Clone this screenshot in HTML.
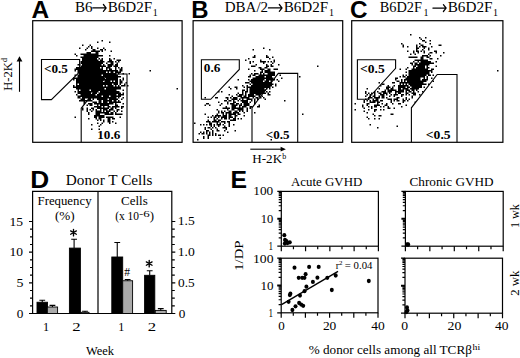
<!DOCTYPE html>
<html><head><meta charset="utf-8">
<style>
html,body{margin:0;padding:0;background:#fff;}
body{width:520px;height:358px;overflow:hidden;font-family:"Liberation Serif",serif;}
svg{display:block;}
</style></head><body>
<svg width="520" height="358" viewBox="0 0 520 358">
<rect width="520" height="358" fill="#fff"/>
<text x="31.59" y="17.60" font-size="24.50" style="font-family:'Liberation Sans',sans-serif;font-weight:bold" textLength="17.65" lengthAdjust="spacingAndGlyphs">A</text>
<text x="191.30" y="17.60" font-size="24.50" style="font-family:'Liberation Sans',sans-serif;font-weight:bold" textLength="17.29" lengthAdjust="spacingAndGlyphs">B</text>
<text x="349.90" y="17.60" font-size="24.50" style="font-family:'Liberation Sans',sans-serif;font-weight:bold" textLength="17.56" lengthAdjust="spacingAndGlyphs">C</text>
<text x="30.24" y="187.60" font-size="24.50" style="font-family:'Liberation Sans',sans-serif;font-weight:bold" textLength="18.96" lengthAdjust="spacingAndGlyphs">D</text>
<text x="230.54" y="187.60" font-size="24.50" style="font-family:'Liberation Sans',sans-serif;font-weight:bold" textLength="16.53" lengthAdjust="spacingAndGlyphs">E</text>
<text x="75.07" y="11.60" font-size="14.00" style="font-family:'Liberation Serif',serif" textLength="17.58" lengthAdjust="spacingAndGlyphs">B6</text>
<path d="M92.80 7.90H106.10M103.40 4.50L106.10 7.90L103.40 11.30" stroke="#000" stroke-width="1.25" fill="none" stroke-linecap="round" stroke-linejoin="miter"/>
<text x="107.77" y="11.60" font-size="14.00" style="font-family:'Liberation Serif',serif" textLength="44.38" lengthAdjust="spacingAndGlyphs">B6D2F</text>
<text x="152.72" y="15.6" font-size="10" style="font-family:'Liberation Serif',serif">1</text>
<text x="224.77" y="11.60" font-size="14.00" style="font-family:'Liberation Serif',serif" textLength="43.36" lengthAdjust="spacingAndGlyphs">DBA/2</text>
<path d="M268.40 7.90H282.00M279.30 4.50L282.00 7.90L279.30 11.30" stroke="#000" stroke-width="1.25" fill="none" stroke-linecap="round" stroke-linejoin="miter"/>
<text x="283.66" y="11.60" font-size="14.00" style="font-family:'Liberation Serif',serif" textLength="44.48" lengthAdjust="spacingAndGlyphs">B6D2F</text>
<text x="329.12" y="15.6" font-size="10" style="font-family:'Liberation Serif',serif">1</text>
<text x="379.69" y="11.60" font-size="14.00" style="font-family:'Liberation Serif',serif" textLength="42.23" lengthAdjust="spacingAndGlyphs">B6D2F</text>
<text x="423.62" y="15.6" font-size="10" style="font-family:'Liberation Serif',serif">1</text>
<path d="M432.90 8.10H446.10M443.40 4.70L446.10 8.10L443.40 11.50" stroke="#000" stroke-width="1.25" fill="none" stroke-linecap="round" stroke-linejoin="miter"/>
<text x="447.76" y="11.60" font-size="14.00" style="font-family:'Liberation Serif',serif" textLength="44.69" lengthAdjust="spacingAndGlyphs">B6D2F</text>
<text x="493.12" y="15.6" font-size="10" style="font-family:'Liberation Serif',serif">1</text>
<g fill="none" stroke="#000" stroke-width="1.2">
<rect x="32.7" y="20.7" width="149.4" height="121.6"/>
<rect x="193.1" y="20.7" width="149.6" height="121.6"/>
<rect x="351.7" y="20.7" width="151.2" height="121.6"/>
</g>
<path d="M101.5 40h1.5v1.5h-1.5zM97 41.5h1.5v1.5h-1.5zM109 41.5h1.5v1.5h-1.5zM82 44.5h1.5v1.5h-1.5zM89.5 44.5h1.5v1.5h-1.5zM88 46h1.5v1.5h-1.5zM91 46h1.5v1.5h-1.5zM79 47.5h1.5v1.5h-1.5zM86.5 47.5h1.5v1.5h-1.5zM91 47.5h1.5v1.5h-1.5zM97 47.5h1.5v1.5h-1.5zM103 47.5h1.5v1.5h-1.5zM85 49h1.5v1.5h-1.5zM92.5 49h3v1.5h-3zM100 49h3v1.5h-3zM104.5 49h1.5v1.5h-1.5zM91 50.5h9v1.5h-9zM101.5 50.5h1.5v1.5h-1.5zM110.5 50.5h1.5v1.5h-1.5zM86.5 52h4.5v1.5h-4.5zM95.5 52h3v1.5h-3zM74.5 53.5h1.5v1.5h-1.5zM80.5 53.5h18v1.5h-18zM76 55h1.5v1.5h-1.5zM83.5 55h19.5v1.5h-19.5zM109 55h1.5v1.5h-1.5zM80.5 56.5h18v1.5h-18zM82 58h15v1.5h-15zM98.5 58h1.5v1.5h-1.5zM101.5 58h1.5v1.5h-1.5zM109 58h1.5v1.5h-1.5zM113.5 58h1.5v1.5h-1.5zM82 59.5h16.5v1.5h-16.5zM100 59.5h3v1.5h-3zM109 59.5h3v1.5h-3zM116.5 59.5h4.5v1.5h-4.5zM80.5 61h24v1.5h-24zM107.5 61h6v1.5h-6zM115 61h1.5v1.5h-1.5zM118 61h1.5v1.5h-1.5zM80.5 62.5h22.5v1.5h-22.5zM106 62.5h1.5v1.5h-1.5zM110.5 62.5h3v1.5h-3zM116.5 62.5h1.5v1.5h-1.5zM77.5 64h3v1.5h-3zM82 64h19.5v1.5h-19.5zM103 64h1.5v1.5h-1.5zM107.5 64h6v1.5h-6zM115 64h3v1.5h-3zM80.5 65.5h25.5v1.5h-25.5zM107.5 65.5h4.5v1.5h-4.5zM113.5 65.5h4.5v1.5h-4.5zM76 67h24v1.5h-24zM101.5 67h1.5v1.5h-1.5zM106 67h4.5v1.5h-4.5zM115 67h1.5v1.5h-1.5zM118 67h1.5v1.5h-1.5zM121 67h1.5v1.5h-1.5zM74.5 68.5h28.5v1.5h-28.5zM106 68.5h1.5v1.5h-1.5zM109 68.5h3v1.5h-3zM115 68.5h1.5v1.5h-1.5zM119.5 68.5h3v1.5h-3zM74.5 70h1.5v1.5h-1.5zM77.5 70h40.5v1.5h-40.5zM119.5 70h3v1.5h-3zM149.5 70h1.5v1.5h-1.5zM77.5 71.5h28.5v1.5h-28.5zM107.5 71.5h1.5v1.5h-1.5zM110.5 71.5h3v1.5h-3zM115 71.5h6v1.5h-6zM79 73h37.5v1.5h-37.5zM118 73h1.5v1.5h-1.5zM122.5 73h1.5v1.5h-1.5zM128.5 73h1.5v1.5h-1.5zM74.5 74.5h1.5v1.5h-1.5zM77.5 74.5h24v1.5h-24zM103 74.5h15v1.5h-15zM77.5 76h43.5v1.5h-43.5zM73 77.5h31.5v1.5h-31.5zM106 77.5h12v1.5h-12zM122.5 77.5h1.5v1.5h-1.5zM73 79h1.5v1.5h-1.5zM76 79h42v1.5h-42zM119.5 79h1.5v1.5h-1.5zM122.5 79h1.5v1.5h-1.5zM76 80.5h27v1.5h-27zM104.5 80.5h6v1.5h-6zM112 80.5h1.5v1.5h-1.5zM115 80.5h3v1.5h-3zM119.5 80.5h3v1.5h-3zM76 82h42v1.5h-42zM119.5 82h3v1.5h-3zM125.5 82h1.5v1.5h-1.5zM76 83.5h1.5v1.5h-1.5zM79 83.5h33v1.5h-33zM113.5 83.5h4.5v1.5h-4.5zM119.5 83.5h1.5v1.5h-1.5zM124 83.5h1.5v1.5h-1.5zM73 85h1.5v1.5h-1.5zM76 85h27v1.5h-27zM104.5 85h1.5v1.5h-1.5zM107.5 85h6v1.5h-6zM115 85h1.5v1.5h-1.5zM118 85h1.5v1.5h-1.5zM121 85h4.5v1.5h-4.5zM127 85h1.5v1.5h-1.5zM73 86.5h48v1.5h-48zM76 88h28.5v1.5h-28.5zM106 88h15v1.5h-15zM176.5 88h1.5v1.5h-1.5zM77.5 89.5h1.5v1.5h-1.5zM80.5 89.5h9v1.5h-9zM91 89.5h25.5v1.5h-25.5zM122.5 89.5h1.5v1.5h-1.5zM74.5 91h1.5v1.5h-1.5zM77.5 91h21v1.5h-21zM100 91h19.5v1.5h-19.5zM77.5 92.5h13.5v1.5h-13.5zM92.5 92.5h4.5v1.5h-4.5zM98.5 92.5h22.5v1.5h-22.5zM122.5 92.5h1.5v1.5h-1.5zM76 94h1.5v1.5h-1.5zM80.5 94h15v1.5h-15zM97 94h19.5v1.5h-19.5zM118 94h6v1.5h-6zM77.5 95.5h24v1.5h-24zM103 95.5h6v1.5h-6zM110.5 95.5h10.5v1.5h-10.5zM77.5 97h3v1.5h-3zM82 97h34.5v1.5h-34.5zM118 97h1.5v1.5h-1.5zM122.5 97h1.5v1.5h-1.5zM80.5 98.5h4.5v1.5h-4.5zM88 98.5h3v1.5h-3zM92.5 98.5h1.5v1.5h-1.5zM97 98.5h10.5v1.5h-10.5zM109 98.5h9v1.5h-9zM121 98.5h1.5v1.5h-1.5zM79 100h13.5v1.5h-13.5zM98.5 100h3v1.5h-3zM103 100h9v1.5h-9zM113.5 100h3v1.5h-3zM118 100h1.5v1.5h-1.5zM83.5 101.5h1.5v1.5h-1.5zM92.5 101.5h4.5v1.5h-4.5zM98.5 101.5h3v1.5h-3zM103 101.5h4.5v1.5h-4.5zM109 101.5h12v1.5h-12zM83.5 103h1.5v1.5h-1.5zM88 103h4.5v1.5h-4.5zM94 103h19.5v1.5h-19.5zM115 103h1.5v1.5h-1.5zM122.5 103h1.5v1.5h-1.5zM86.5 104.5h1.5v1.5h-1.5zM89.5 104.5h3v1.5h-3zM97 104.5h1.5v1.5h-1.5zM100 104.5h9v1.5h-9zM115 104.5h3v1.5h-3zM94 106h7.5v1.5h-7.5zM103 106h1.5v1.5h-1.5zM107.5 106h3v1.5h-3zM112 106h7.5v1.5h-7.5zM121 106h3v1.5h-3zM82 107.5h1.5v1.5h-1.5zM86.5 107.5h1.5v1.5h-1.5zM91 107.5h3v1.5h-3zM97 107.5h12v1.5h-12zM110.5 107.5h3v1.5h-3zM115 107.5h1.5v1.5h-1.5zM121 107.5h1.5v1.5h-1.5zM82 109h1.5v1.5h-1.5zM86.5 109h1.5v1.5h-1.5zM89.5 109h1.5v1.5h-1.5zM92.5 109h1.5v1.5h-1.5zM95.5 109h1.5v1.5h-1.5zM100 109h1.5v1.5h-1.5zM103 109h4.5v1.5h-4.5zM109 109h4.5v1.5h-4.5zM116.5 109h3v1.5h-3zM86.5 110.5h1.5v1.5h-1.5zM91 110.5h1.5v1.5h-1.5zM95.5 110.5h6v1.5h-6zM103 110.5h1.5v1.5h-1.5zM106 110.5h4.5v1.5h-4.5zM113.5 110.5h1.5v1.5h-1.5zM116.5 110.5h1.5v1.5h-1.5zM121 110.5h1.5v1.5h-1.5zM88 112h1.5v1.5h-1.5zM95.5 112h13.5v1.5h-13.5zM110.5 112h3v1.5h-3zM115 112h1.5v1.5h-1.5zM88 113.5h1.5v1.5h-1.5zM95.5 113.5h4.5v1.5h-4.5zM104.5 113.5h9v1.5h-9zM115 113.5h7.5v1.5h-7.5zM94 115h10.5v1.5h-10.5zM74.5 116.5h1.5v1.5h-1.5zM94 116.5h3v1.5h-3zM98.5 116.5h6v1.5h-6zM106 116.5h7.5v1.5h-7.5zM119.5 116.5h1.5v1.5h-1.5zM88 118h1.5v1.5h-1.5zM95.5 118h1.5v1.5h-1.5zM98.5 118h3v1.5h-3zM107.5 118h3v1.5h-3zM112 118h3v1.5h-3zM97 119.5h1.5v1.5h-1.5zM100 119.5h1.5v1.5h-1.5zM103 119.5h1.5v1.5h-1.5zM107.5 119.5h3v1.5h-3zM103 121h1.5v1.5h-1.5zM107.5 121h3v1.5h-3zM112 121h1.5v1.5h-1.5zM97 122.5h1.5v1.5h-1.5zM101.5 122.5h1.5v1.5h-1.5zM109 122.5h1.5v1.5h-1.5zM115 122.5h1.5v1.5h-1.5zM91 124h1.5v1.5h-1.5zM100 124h1.5v1.5h-1.5zM98.5 125.5h1.5v1.5h-1.5zM91 128.5h1.5v1.5h-1.5zM98.5 128.5h1.5v1.5h-1.5zM263 47.5h1.5v1.5h-1.5zM252.5 49h1.5v1.5h-1.5zM269 49h1.5v1.5h-1.5zM254 55h1.5v1.5h-1.5zM266 55h1.5v1.5h-1.5zM252.5 56.5h3v1.5h-3zM266 56.5h3v1.5h-3zM272 56.5h1.5v1.5h-1.5zM248 58h1.5v1.5h-1.5zM269 58h1.5v1.5h-1.5zM245 59.5h1.5v1.5h-1.5zM260 59.5h1.5v1.5h-1.5zM273.5 59.5h1.5v1.5h-1.5zM249.5 61h1.5v1.5h-1.5zM252.5 61h1.5v1.5h-1.5zM260 61h6v1.5h-6zM267.5 61h1.5v1.5h-1.5zM270.5 61h1.5v1.5h-1.5zM273.5 61h1.5v1.5h-1.5zM249.5 62.5h1.5v1.5h-1.5zM263 62.5h1.5v1.5h-1.5zM272 62.5h1.5v1.5h-1.5zM255.5 64h1.5v1.5h-1.5zM266 64h1.5v1.5h-1.5zM270.5 64h1.5v1.5h-1.5zM278 64h1.5v1.5h-1.5zM251 65.5h4.5v1.5h-4.5zM266 65.5h3v1.5h-3zM270.5 65.5h3v1.5h-3zM317 65.5h1.5v1.5h-1.5zM258.5 67h3v1.5h-3zM264.5 67h3v1.5h-3zM248 68.5h1.5v1.5h-1.5zM260 68.5h4.5v1.5h-4.5zM267.5 68.5h3v1.5h-3zM273.5 68.5h4.5v1.5h-4.5zM254 70h1.5v1.5h-1.5zM261.5 70h1.5v1.5h-1.5zM264.5 70h6v1.5h-6zM260 71.5h3v1.5h-3zM264.5 71.5h10.5v1.5h-10.5zM251 73h1.5v1.5h-1.5zM254 73h4.5v1.5h-4.5zM260 73h1.5v1.5h-1.5zM263 73h1.5v1.5h-1.5zM267.5 73h7.5v1.5h-7.5zM249.5 74.5h1.5v1.5h-1.5zM252.5 74.5h3v1.5h-3zM258.5 74.5h16.5v1.5h-16.5zM279.5 74.5h1.5v1.5h-1.5zM248 76h3v1.5h-3zM255.5 76h9v1.5h-9zM266 76h6v1.5h-6zM299 76h1.5v1.5h-1.5zM252.5 77.5h21v1.5h-21zM281 77.5h1.5v1.5h-1.5zM237.5 79h1.5v1.5h-1.5zM248 79h1.5v1.5h-1.5zM251 79h13.5v1.5h-13.5zM266 79h9v1.5h-9zM276.5 79h1.5v1.5h-1.5zM249.5 80.5h13.5v1.5h-13.5zM264.5 80.5h4.5v1.5h-4.5zM270.5 80.5h1.5v1.5h-1.5zM278 80.5h1.5v1.5h-1.5zM245 82h4.5v1.5h-4.5zM251 82h21v1.5h-21zM249.5 83.5h1.5v1.5h-1.5zM252.5 83.5h21v1.5h-21zM275 83.5h1.5v1.5h-1.5zM242 85h1.5v1.5h-1.5zM246.5 85h1.5v1.5h-1.5zM251 85h21v1.5h-21zM275 85h1.5v1.5h-1.5zM228.5 86.5h1.5v1.5h-1.5zM234.5 86.5h3v1.5h-3zM243.5 86.5h1.5v1.5h-1.5zM246.5 86.5h24v1.5h-24zM272 86.5h1.5v1.5h-1.5zM230 88h1.5v1.5h-1.5zM236 88h1.5v1.5h-1.5zM246.5 88h1.5v1.5h-1.5zM249.5 88h15v1.5h-15zM266 88h1.5v1.5h-1.5zM269 88h1.5v1.5h-1.5zM242 89.5h3v1.5h-3zM246.5 89.5h1.5v1.5h-1.5zM249.5 89.5h16.5v1.5h-16.5zM218 91h1.5v1.5h-1.5zM221 91h1.5v1.5h-1.5zM242 91h1.5v1.5h-1.5zM245 91h3v1.5h-3zM249.5 91h15v1.5h-15zM266 91h1.5v1.5h-1.5zM269 91h1.5v1.5h-1.5zM237.5 92.5h1.5v1.5h-1.5zM242 92.5h1.5v1.5h-1.5zM245 92.5h1.5v1.5h-1.5zM249.5 92.5h16.5v1.5h-16.5zM267.5 92.5h1.5v1.5h-1.5zM228.5 94h1.5v1.5h-1.5zM236 94h1.5v1.5h-1.5zM239 94h4.5v1.5h-4.5zM245 94h1.5v1.5h-1.5zM248 94h6v1.5h-6zM255.5 94h6v1.5h-6zM267.5 94h3v1.5h-3zM231.5 95.5h1.5v1.5h-1.5zM237.5 95.5h4.5v1.5h-4.5zM243.5 95.5h3v1.5h-3zM248 95.5h7.5v1.5h-7.5zM258.5 95.5h1.5v1.5h-1.5zM261.5 95.5h1.5v1.5h-1.5zM204.5 97h1.5v1.5h-1.5zM215 97h3v1.5h-3zM225.5 97h3v1.5h-3zM230 97h1.5v1.5h-1.5zM233 97h4.5v1.5h-4.5zM240.5 97h9v1.5h-9zM252.5 97h1.5v1.5h-1.5zM255.5 97h3v1.5h-3zM260 97h1.5v1.5h-1.5zM263 97h1.5v1.5h-1.5zM227 98.5h1.5v1.5h-1.5zM231.5 98.5h6v1.5h-6zM239 98.5h1.5v1.5h-1.5zM242 98.5h1.5v1.5h-1.5zM246.5 98.5h6v1.5h-6zM254 98.5h1.5v1.5h-1.5zM257 98.5h1.5v1.5h-1.5zM264.5 98.5h1.5v1.5h-1.5zM224 100h3v1.5h-3zM228.5 100h3v1.5h-3zM233 100h1.5v1.5h-1.5zM237.5 100h1.5v1.5h-1.5zM240.5 100h7.5v1.5h-7.5zM251 100h1.5v1.5h-1.5zM254 100h1.5v1.5h-1.5zM284 100h1.5v1.5h-1.5zM218 101.5h1.5v1.5h-1.5zM227 101.5h1.5v1.5h-1.5zM233 101.5h3v1.5h-3zM242 101.5h6v1.5h-6zM249.5 101.5h1.5v1.5h-1.5zM254 101.5h1.5v1.5h-1.5zM206 103h3v1.5h-3zM221 103h1.5v1.5h-1.5zM227 103h1.5v1.5h-1.5zM230 103h4.5v1.5h-4.5zM236 103h3v1.5h-3zM240.5 103h1.5v1.5h-1.5zM243.5 103h6v1.5h-6zM254 103h1.5v1.5h-1.5zM204.5 104.5h1.5v1.5h-1.5zM209 104.5h1.5v1.5h-1.5zM219.5 104.5h1.5v1.5h-1.5zM231.5 104.5h6v1.5h-6zM239 104.5h3v1.5h-3zM243.5 104.5h6v1.5h-6zM258.5 104.5h1.5v1.5h-1.5zM225.5 106h1.5v1.5h-1.5zM231.5 106h4.5v1.5h-4.5zM239 106h1.5v1.5h-1.5zM242 106h4.5v1.5h-4.5zM249.5 106h3v1.5h-3zM257 106h3v1.5h-3zM222.5 107.5h7.5v1.5h-7.5zM231.5 107.5h12v1.5h-12zM246.5 107.5h1.5v1.5h-1.5zM249.5 107.5h1.5v1.5h-1.5zM216.5 109h1.5v1.5h-1.5zM227 109h1.5v1.5h-1.5zM231.5 109h3v1.5h-3zM237.5 109h6v1.5h-6zM246.5 109h1.5v1.5h-1.5zM218 110.5h1.5v1.5h-1.5zM221 110.5h1.5v1.5h-1.5zM224 110.5h1.5v1.5h-1.5zM228.5 110.5h3v1.5h-3zM234.5 110.5h3v1.5h-3zM239 110.5h1.5v1.5h-1.5zM242 110.5h1.5v1.5h-1.5zM246.5 110.5h1.5v1.5h-1.5zM218 112h1.5v1.5h-1.5zM221 112h3v1.5h-3zM225.5 112h6v1.5h-6zM233 112h6v1.5h-6zM243.5 112h1.5v1.5h-1.5zM254 112h1.5v1.5h-1.5zM204.5 113.5h1.5v1.5h-1.5zM216.5 113.5h1.5v1.5h-1.5zM222.5 113.5h1.5v1.5h-1.5zM225.5 113.5h1.5v1.5h-1.5zM228.5 113.5h7.5v1.5h-7.5zM237.5 113.5h3v1.5h-3zM302 113.5h1.5v1.5h-1.5zM212 115h1.5v1.5h-1.5zM215 115h6v1.5h-6zM222.5 115h4.5v1.5h-4.5zM228.5 115h3v1.5h-3zM234.5 115h3v1.5h-3zM243.5 115h1.5v1.5h-1.5zM207.5 116.5h1.5v1.5h-1.5zM210.5 116.5h1.5v1.5h-1.5zM213.5 116.5h3v1.5h-3zM218 116.5h1.5v1.5h-1.5zM221 116.5h6v1.5h-6zM228.5 116.5h4.5v1.5h-4.5zM234.5 116.5h1.5v1.5h-1.5zM213.5 118h1.5v1.5h-1.5zM216.5 118h1.5v1.5h-1.5zM221 118h1.5v1.5h-1.5zM224 118h3v1.5h-3zM228.5 118h1.5v1.5h-1.5zM233 118h3v1.5h-3zM237.5 118h1.5v1.5h-1.5zM240.5 118h1.5v1.5h-1.5zM207.5 119.5h1.5v1.5h-1.5zM213.5 119.5h3v1.5h-3zM218 119.5h3v1.5h-3zM230 119.5h6v1.5h-6zM206 121h4.5v1.5h-4.5zM212 121h7.5v1.5h-7.5zM221 121h4.5v1.5h-4.5zM227 121h3v1.5h-3zM194 122.5h1.5v1.5h-1.5zM209 122.5h3v1.5h-3zM216.5 122.5h1.5v1.5h-1.5zM219.5 122.5h1.5v1.5h-1.5zM224 122.5h1.5v1.5h-1.5zM228.5 122.5h1.5v1.5h-1.5zM200 124h1.5v1.5h-1.5zM203 124h1.5v1.5h-1.5zM206 124h1.5v1.5h-1.5zM209 124h3v1.5h-3zM213.5 124h1.5v1.5h-1.5zM216.5 124h4.5v1.5h-4.5zM222.5 124h1.5v1.5h-1.5zM228.5 124h1.5v1.5h-1.5zM233 124h1.5v1.5h-1.5zM210.5 125.5h1.5v1.5h-1.5zM213.5 125.5h1.5v1.5h-1.5zM218 125.5h1.5v1.5h-1.5zM224 125.5h1.5v1.5h-1.5zM228.5 125.5h1.5v1.5h-1.5zM204.5 127h1.5v1.5h-1.5zM207.5 127h3v1.5h-3zM212 127h1.5v1.5h-1.5zM215 127h1.5v1.5h-1.5zM222.5 127h4.5v1.5h-4.5zM204.5 128.5h1.5v1.5h-1.5zM210.5 128.5h1.5v1.5h-1.5zM216.5 128.5h1.5v1.5h-1.5zM225.5 128.5h1.5v1.5h-1.5zM206 130h3v1.5h-3zM212 130h1.5v1.5h-1.5zM216.5 130h3v1.5h-3zM224 130h1.5v1.5h-1.5zM234.5 130h1.5v1.5h-1.5zM200 131.5h1.5v1.5h-1.5zM203 131.5h1.5v1.5h-1.5zM206 131.5h1.5v1.5h-1.5zM209 131.5h1.5v1.5h-1.5zM212 131.5h1.5v1.5h-1.5zM227 131.5h1.5v1.5h-1.5zM198.5 133h1.5v1.5h-1.5zM201.5 133h3v1.5h-3zM206 133h1.5v1.5h-1.5zM209 133h1.5v1.5h-1.5zM212 133h1.5v1.5h-1.5zM215 133h1.5v1.5h-1.5zM207.5 134.5h3v1.5h-3zM212 134.5h1.5v1.5h-1.5zM215 134.5h1.5v1.5h-1.5zM218 134.5h3v1.5h-3zM222.5 134.5h1.5v1.5h-1.5zM203 136h1.5v1.5h-1.5zM207.5 136h1.5v1.5h-1.5zM203 137.5h1.5v1.5h-1.5zM207.5 137.5h1.5v1.5h-1.5zM219.5 137.5h1.5v1.5h-1.5zM197 139h1.5v1.5h-1.5zM270.5 139h1.5v1.5h-1.5zM410 34h1.5v1.5h-1.5zM419 37h1.5v1.5h-1.5zM425 37h1.5v1.5h-1.5zM420.5 38.5h1.5v1.5h-1.5zM422 40h3v1.5h-3zM429.5 40h1.5v1.5h-1.5zM425 41.5h1.5v1.5h-1.5zM401 43h1.5v1.5h-1.5zM419 43h1.5v1.5h-1.5zM429.5 43h1.5v1.5h-1.5zM402.5 44.5h1.5v1.5h-1.5zM416 44.5h1.5v1.5h-1.5zM420.5 44.5h3v1.5h-3zM438.5 44.5h3v1.5h-3zM402.5 46h1.5v1.5h-1.5zM407 46h1.5v1.5h-1.5zM416 46h1.5v1.5h-1.5zM419 46h1.5v1.5h-1.5zM422 46h4.5v1.5h-4.5zM431 46h1.5v1.5h-1.5zM416 47.5h3v1.5h-3zM423.5 47.5h1.5v1.5h-1.5zM428 47.5h1.5v1.5h-1.5zM416 49h1.5v1.5h-1.5zM422 49h1.5v1.5h-1.5zM428 49h1.5v1.5h-1.5zM407 50.5h1.5v1.5h-1.5zM413 50.5h1.5v1.5h-1.5zM416 50.5h3v1.5h-3zM420.5 50.5h1.5v1.5h-1.5zM423.5 50.5h1.5v1.5h-1.5zM434 50.5h3v1.5h-3zM413 52h1.5v1.5h-1.5zM417.5 52h1.5v1.5h-1.5zM423.5 52h1.5v1.5h-1.5zM429.5 52h3v1.5h-3zM435.5 52h1.5v1.5h-1.5zM443 52h1.5v1.5h-1.5zM410 53.5h1.5v1.5h-1.5zM414.5 53.5h1.5v1.5h-1.5zM428 53.5h1.5v1.5h-1.5zM422 55h6v1.5h-6zM429.5 55h1.5v1.5h-1.5zM440 55h1.5v1.5h-1.5zM408.5 56.5h9v1.5h-9zM420.5 56.5h3v1.5h-3zM426.5 56.5h3v1.5h-3zM420.5 58h3v1.5h-3zM429.5 58h3v1.5h-3zM437 58h1.5v1.5h-1.5zM414.5 59.5h13.5v1.5h-13.5zM413 61h1.5v1.5h-1.5zM417.5 61h1.5v1.5h-1.5zM420.5 61h10.5v1.5h-10.5zM435.5 61h1.5v1.5h-1.5zM410 62.5h3v1.5h-3zM414.5 62.5h3v1.5h-3zM419 62.5h15v1.5h-15zM411.5 64h1.5v1.5h-1.5zM414.5 64h15v1.5h-15zM413 65.5h3v1.5h-3zM417.5 65.5h7.5v1.5h-7.5zM426.5 65.5h1.5v1.5h-1.5zM435.5 65.5h1.5v1.5h-1.5zM407 67h1.5v1.5h-1.5zM413 67h1.5v1.5h-1.5zM416 67h9v1.5h-9zM426.5 67h3v1.5h-3zM399.5 68.5h1.5v1.5h-1.5zM405.5 68.5h1.5v1.5h-1.5zM411.5 68.5h16.5v1.5h-16.5zM431 68.5h3v1.5h-3zM408.5 70h24v1.5h-24zM497 70h1.5v1.5h-1.5zM405.5 71.5h1.5v1.5h-1.5zM408.5 71.5h21v1.5h-21zM431 71.5h1.5v1.5h-1.5zM408.5 73h21v1.5h-21zM402.5 74.5h1.5v1.5h-1.5zM405.5 74.5h1.5v1.5h-1.5zM408.5 74.5h18v1.5h-18zM428 74.5h3v1.5h-3zM432.5 74.5h1.5v1.5h-1.5zM399.5 76h1.5v1.5h-1.5zM402.5 76h3v1.5h-3zM407 76h18v1.5h-18zM426.5 76h1.5v1.5h-1.5zM395 77.5h3v1.5h-3zM405.5 77.5h15v1.5h-15zM423.5 77.5h1.5v1.5h-1.5zM426.5 77.5h1.5v1.5h-1.5zM431 77.5h1.5v1.5h-1.5zM395 79h1.5v1.5h-1.5zM401 79h1.5v1.5h-1.5zM404 79h16.5v1.5h-16.5zM422 79h6v1.5h-6zM396.5 80.5h3v1.5h-3zM401 80.5h1.5v1.5h-1.5zM404 80.5h1.5v1.5h-1.5zM407 80.5h19.5v1.5h-19.5zM432.5 80.5h1.5v1.5h-1.5zM378.5 82h1.5v1.5h-1.5zM392 82h3v1.5h-3zM399.5 82h24v1.5h-24zM381.5 83.5h3v1.5h-3zM399.5 83.5h1.5v1.5h-1.5zM402.5 83.5h1.5v1.5h-1.5zM405.5 83.5h1.5v1.5h-1.5zM408.5 83.5h18v1.5h-18zM428 83.5h1.5v1.5h-1.5zM380 85h1.5v1.5h-1.5zM387.5 85h1.5v1.5h-1.5zM393.5 85h1.5v1.5h-1.5zM398 85h10.5v1.5h-10.5zM410 85h12v1.5h-12zM386 86.5h4.5v1.5h-4.5zM392 86.5h1.5v1.5h-1.5zM398 86.5h7.5v1.5h-7.5zM407 86.5h3v1.5h-3zM411.5 86.5h10.5v1.5h-10.5zM423.5 86.5h1.5v1.5h-1.5zM431 86.5h1.5v1.5h-1.5zM366.5 88h1.5v1.5h-1.5zM378.5 88h1.5v1.5h-1.5zM386 88h3v1.5h-3zM390.5 88h3v1.5h-3zM398 88h3v1.5h-3zM402.5 88h6v1.5h-6zM410 88h9v1.5h-9zM384.5 89.5h1.5v1.5h-1.5zM387.5 89.5h9v1.5h-9zM398 89.5h6v1.5h-6zM405.5 89.5h4.5v1.5h-4.5zM411.5 89.5h3v1.5h-3zM416 89.5h1.5v1.5h-1.5zM365 91h1.5v1.5h-1.5zM374 91h1.5v1.5h-1.5zM377 91h1.5v1.5h-1.5zM381.5 91h4.5v1.5h-4.5zM387.5 91h4.5v1.5h-4.5zM395 91h9v1.5h-9zM405.5 91h1.5v1.5h-1.5zM408.5 91h3v1.5h-3zM413 91h1.5v1.5h-1.5zM417.5 91h1.5v1.5h-1.5zM422 91h1.5v1.5h-1.5zM365 92.5h1.5v1.5h-1.5zM368 92.5h1.5v1.5h-1.5zM371 92.5h1.5v1.5h-1.5zM374 92.5h1.5v1.5h-1.5zM378.5 92.5h3v1.5h-3zM383 92.5h4.5v1.5h-4.5zM389 92.5h1.5v1.5h-1.5zM395 92.5h1.5v1.5h-1.5zM398 92.5h3v1.5h-3zM405.5 92.5h3v1.5h-3zM411.5 92.5h4.5v1.5h-4.5zM366.5 94h1.5v1.5h-1.5zM369.5 94h1.5v1.5h-1.5zM374 94h1.5v1.5h-1.5zM380 94h4.5v1.5h-4.5zM386 94h1.5v1.5h-1.5zM390.5 94h1.5v1.5h-1.5zM393.5 94h4.5v1.5h-4.5zM401 94h3v1.5h-3zM405.5 94h1.5v1.5h-1.5zM408.5 94h1.5v1.5h-1.5zM413 94h3v1.5h-3zM419 94h1.5v1.5h-1.5zM365 95.5h1.5v1.5h-1.5zM369.5 95.5h1.5v1.5h-1.5zM372.5 95.5h3v1.5h-3zM378.5 95.5h1.5v1.5h-1.5zM381.5 95.5h3v1.5h-3zM389 95.5h1.5v1.5h-1.5zM393.5 95.5h1.5v1.5h-1.5zM401 95.5h1.5v1.5h-1.5zM411.5 95.5h1.5v1.5h-1.5zM368 97h4.5v1.5h-4.5zM374 97h6v1.5h-6zM381.5 97h3v1.5h-3zM386 97h1.5v1.5h-1.5zM396.5 97h3v1.5h-3zM405.5 97h1.5v1.5h-1.5zM411.5 97h1.5v1.5h-1.5zM365 98.5h1.5v1.5h-1.5zM368 98.5h1.5v1.5h-1.5zM372.5 98.5h1.5v1.5h-1.5zM375.5 98.5h3v1.5h-3zM387.5 98.5h4.5v1.5h-4.5zM393.5 98.5h4.5v1.5h-4.5zM402.5 98.5h1.5v1.5h-1.5zM405.5 98.5h1.5v1.5h-1.5zM408.5 98.5h1.5v1.5h-1.5zM363.5 100h1.5v1.5h-1.5zM366.5 100h1.5v1.5h-1.5zM369.5 100h1.5v1.5h-1.5zM372.5 100h6v1.5h-6zM380 100h3v1.5h-3zM390.5 100h1.5v1.5h-1.5zM393.5 100h1.5v1.5h-1.5zM396.5 100h3v1.5h-3zM402.5 100h3v1.5h-3zM407 100h1.5v1.5h-1.5zM363.5 101.5h1.5v1.5h-1.5zM369.5 101.5h6v1.5h-6zM377 101.5h3v1.5h-3zM390.5 101.5h1.5v1.5h-1.5zM402.5 101.5h1.5v1.5h-1.5zM414.5 101.5h1.5v1.5h-1.5zM354.5 103h1.5v1.5h-1.5zM366.5 103h3v1.5h-3zM377 103h1.5v1.5h-1.5zM381.5 103h1.5v1.5h-1.5zM386 103h1.5v1.5h-1.5zM392 103h1.5v1.5h-1.5zM398 103h3v1.5h-3zM362 104.5h1.5v1.5h-1.5zM366.5 104.5h1.5v1.5h-1.5zM374 104.5h6v1.5h-6zM384.5 104.5h3v1.5h-3zM405.5 104.5h1.5v1.5h-1.5zM362 106h1.5v1.5h-1.5zM368 106h1.5v1.5h-1.5zM371 106h1.5v1.5h-1.5zM374 106h3v1.5h-3zM380 106h1.5v1.5h-1.5zM383 106h1.5v1.5h-1.5zM387.5 106h1.5v1.5h-1.5zM401 106h1.5v1.5h-1.5zM363.5 107.5h1.5v1.5h-1.5zM371 107.5h1.5v1.5h-1.5zM387.5 107.5h3v1.5h-3zM393.5 107.5h1.5v1.5h-1.5zM354.5 109h1.5v1.5h-1.5zM368 109h1.5v1.5h-1.5zM374 109h3v1.5h-3zM380 109h1.5v1.5h-1.5zM383 109h1.5v1.5h-1.5zM363.5 110.5h1.5v1.5h-1.5zM374 110.5h1.5v1.5h-1.5zM366.5 112h1.5v1.5h-1.5zM372.5 113.5h1.5v1.5h-1.5zM390.5 113.5h3v1.5h-3zM374 115h1.5v1.5h-1.5zM378.5 115h3v1.5h-3zM366.5 116.5h1.5v1.5h-1.5zM368 118h1.5v1.5h-1.5zM374 118h1.5v1.5h-1.5zM378.5 118h1.5v1.5h-1.5zM369.5 124h1.5v1.5h-1.5zM396.5 125.5h1.5v1.5h-1.5zM377 127h1.5v1.5h-1.5z"/>
<g fill="none" stroke="#000" stroke-width="1.1">
<path d="M41.5 59.5H79.6V72L51.4 99.6H41.5Z"/>
<path d="M81.2 142.3V108.3L108.2 74H127V142.3"/>
<path d="M201.4 59.7H239.3V69.5L210.7 99.3H201.4Z"/>
<path d="M252 142.3V107.8L278.3 73.4H297.7V142.3"/>
<path d="M357.4 59.7H395.6V68.4L367.4 99.3H357.4Z"/>
<path d="M411.4 142.3V107.8L437.2 74.5H457V142.3"/>
</g>
<text x="43.94" y="72.50" font-size="13.00" style="font-family:'Liberation Serif',serif;font-weight:bold" textLength="23.94" lengthAdjust="spacingAndGlyphs">&lt;0.5</text>
<text x="97.25" y="139.30" font-size="13.00" style="font-family:'Liberation Serif',serif;font-weight:bold" textLength="23.04" lengthAdjust="spacingAndGlyphs">10.6</text>
<text x="203.89" y="72.20" font-size="13.00" style="font-family:'Liberation Serif',serif;font-weight:bold" textLength="16.59" lengthAdjust="spacingAndGlyphs">0.6</text>
<text x="265.85" y="139.10" font-size="13.00" style="font-family:'Liberation Serif',serif;font-weight:bold" textLength="23.73" lengthAdjust="spacingAndGlyphs">&lt;0.5</text>
<text x="360.02" y="73.00" font-size="13.00" style="font-family:'Liberation Serif',serif;font-weight:bold" textLength="24.67" lengthAdjust="spacingAndGlyphs">&lt;0.5</text>
<text x="425.82" y="139.10" font-size="13.00" style="font-family:'Liberation Serif',serif;font-weight:bold" textLength="24.88" lengthAdjust="spacingAndGlyphs">&lt;0.5</text>
<text transform="translate(12.00 90.40) rotate(-90)" x="-0.36" y="0" font-size="12.50" style="font-family:'Liberation Serif',serif" textLength="28.49" lengthAdjust="spacingAndGlyphs">H-2K</text>
<text transform="translate(7.0 61.9) rotate(-90)" x="0" y="0" font-size="8" style="font-family:'Liberation Serif',serif">d</text>
<path d="M19.5 91.8V60" stroke="#000" stroke-width="1.1"/><path d="M19.5 56.3L16.6 61.5H22.4Z"/>
<text x="252.32" y="162.70" font-size="12.50" style="font-family:'Liberation Serif',serif" textLength="29.81" lengthAdjust="spacingAndGlyphs">H-2K</text>
<text x="282.2" y="158.6" font-size="8" style="font-family:'Liberation Serif',serif">b</text>
<path d="M250.3 149.2H281" stroke="#000" stroke-width="1.1"/><path d="M285.9 149.2L280.6 146.8V151.6Z"/>
<text x="65.86" y="184.50" font-size="15.00" style="font-family:'Liberation Serif',serif" textLength="86.58" lengthAdjust="spacingAndGlyphs">Donor T Cells</text>
<text x="37.53" y="205.10" font-size="12.50" style="font-family:'Liberation Serif',serif" textLength="54.02" lengthAdjust="spacingAndGlyphs">Frequency</text>
<text x="54.92" y="219.80" font-size="12.50" style="font-family:'Liberation Serif',serif" textLength="19.76" lengthAdjust="spacingAndGlyphs">(%)</text>
<text x="121.07" y="204.80" font-size="12.50" style="font-family:'Liberation Serif',serif" textLength="26.70" lengthAdjust="spacingAndGlyphs">Cells</text>
<text x="115.20" y="219.80" font-size="12.50" style="font-family:'Liberation Serif',serif" textLength="23.84" lengthAdjust="spacingAndGlyphs">(x 10</text>
<text x="138.92" y="216.80" font-size="8.50" style="font-family:'Liberation Serif',serif" textLength="10.76" lengthAdjust="spacingAndGlyphs">-6</text>
<text x="149.89" y="219.80" font-size="12.50" style="font-family:'Liberation Serif',serif" textLength="4.28" lengthAdjust="spacingAndGlyphs">)</text>
<text x="9.41" y="225.70" font-size="12.50" style="font-family:'Liberation Serif',serif" textLength="13.52" lengthAdjust="spacingAndGlyphs">15</text>
<text x="9.41" y="255.60" font-size="12.50" style="font-family:'Liberation Serif',serif" textLength="13.50" lengthAdjust="spacingAndGlyphs">10</text>
<text x="16.49" y="286.60" font-size="12.50" style="font-family:'Liberation Serif',serif" textLength="6.95" lengthAdjust="spacingAndGlyphs">5</text>
<text x="16.80" y="317.80" font-size="12.50" style="font-family:'Liberation Serif',serif" textLength="6.61" lengthAdjust="spacingAndGlyphs">0</text>
<text x="177.70" y="225.20" font-size="12.50" style="font-family:'Liberation Serif',serif" textLength="17.03" lengthAdjust="spacingAndGlyphs">1.5</text>
<text x="177.70" y="255.60" font-size="12.50" style="font-family:'Liberation Serif',serif" textLength="17.01" lengthAdjust="spacingAndGlyphs">1.0</text>
<text x="178.09" y="286.80" font-size="12.50" style="font-family:'Liberation Serif',serif" textLength="16.63" lengthAdjust="spacingAndGlyphs">0.5</text>
<text x="178.70" y="317.80" font-size="12.50" style="font-family:'Liberation Serif',serif" textLength="6.61" lengthAdjust="spacingAndGlyphs">0</text>
<text x="42.93" y="330.80" font-size="12.50" style="font-family:'Liberation Serif',serif" textLength="6.11" lengthAdjust="spacingAndGlyphs">1</text>
<text x="72.37" y="330.80" font-size="12.50" style="font-family:'Liberation Serif',serif" textLength="8.36" lengthAdjust="spacingAndGlyphs">2</text>
<text x="118.33" y="330.80" font-size="12.50" style="font-family:'Liberation Serif',serif" textLength="6.11" lengthAdjust="spacingAndGlyphs">1</text>
<text x="147.77" y="330.80" font-size="12.50" style="font-family:'Liberation Serif',serif" textLength="8.36" lengthAdjust="spacingAndGlyphs">2</text>
<text x="85.99" y="355.00" font-size="12.50" style="font-family:'Liberation Serif',serif" textLength="28.01" lengthAdjust="spacingAndGlyphs">Week</text>
<g fill="none" stroke="#000" stroke-width="1.2"><path d="M32.6 191.3H171.8M32.6 190.7V314.1M171.8 190.7V314.1M98 191V314M29 313.5H175M33 313.50h-4M171.8 313.50h3.5M33 305.83h-3M171.8 305.83h3M33 298.17h-3M171.8 298.17h3M33 290.50h-3M171.8 290.50h3M33 282.83h-4M171.8 282.83h3.5M33 275.17h-3M171.8 275.17h3M33 267.50h-3M171.8 267.50h3M33 259.83h-3M171.8 259.83h3M33 252.17h-4M171.8 252.17h3.5M33 244.50h-3M171.8 244.50h3M33 236.83h-3M171.8 236.83h3M33 229.17h-3M171.8 229.17h3M33 221.50h-4M171.8 221.50h3.5"/></g>
<rect x="37.00" y="302.25" width="10.50" height="11.25" fill="#000" stroke="#000" stroke-width="0.9"/>
<path d="M42.25 302.25V300.25M39.35 300.25H45.15" stroke="#000" stroke-width="1.1" fill="none"/>
<rect x="47.30" y="307.00" width="10.30" height="6.50" fill="#aaa" stroke="#000" stroke-width="0.9"/>
<path d="M52.45 307.00V305.40M49.55 305.40H55.35" stroke="#000" stroke-width="1.1" fill="none"/>
<rect x="69.40" y="248.10" width="11.00" height="65.40" fill="#000" stroke="#000" stroke-width="0.9"/>
<path d="M74.10 248.10V239.20M71.20 239.20H77.00" stroke="#000" stroke-width="1.1" fill="none"/>
<rect x="81.00" y="312.30" width="8.00" height="1.20" fill="#aaa" stroke="#000" stroke-width="0.9"/>
<path d="M85.00 312.30V311.30M82.10 311.30H87.90" stroke="#000" stroke-width="1.1" fill="none"/>
<rect x="111.80" y="257.00" width="10.90" height="56.50" fill="#000" stroke="#000" stroke-width="0.9"/>
<path d="M117.25 257.00V242.50M114.35 242.50H120.15" stroke="#000" stroke-width="1.1" fill="none"/>
<rect x="122.70" y="280.75" width="9.90" height="32.75" fill="#aaa" stroke="#000" stroke-width="0.9"/>
<path d="M127.65 280.75V279.50M124.75 279.50H130.55" stroke="#000" stroke-width="1.1" fill="none"/>
<rect x="144.60" y="275.30" width="10.20" height="38.20" fill="#000" stroke="#000" stroke-width="0.9"/>
<path d="M149.70 275.30V270.80M146.80 270.80H152.60" stroke="#000" stroke-width="1.1" fill="none"/>
<rect x="155.30" y="310.40" width="10.90" height="3.10" fill="#aaa" stroke="#000" stroke-width="0.9"/>
<path d="M160.75 310.40V308.60M157.85 308.60H163.65" stroke="#000" stroke-width="1.1" fill="none"/>
<path d="M73.50 229.30L73.50 235.90M70.64 230.95L76.36 234.25M76.36 230.95L70.64 234.25" stroke="#000" stroke-width="1.35" stroke-linecap="round" fill="none"/>
<path d="M149.20 260.30L149.20 266.90M146.34 261.95L152.06 265.25M152.06 261.95L146.34 265.25" stroke="#000" stroke-width="1.35" stroke-linecap="round" fill="none"/>
<text x="124.29" y="275.50" font-size="11.50" style="font-family:'Liberation Serif',serif" textLength="5.82" lengthAdjust="spacingAndGlyphs">#</text>
<text x="291.07" y="186.30" font-size="13.00" style="font-family:'Liberation Serif',serif" textLength="71.24" lengthAdjust="spacingAndGlyphs">Acute GVHD</text>
<text x="409.56" y="186.10" font-size="13.00" style="font-family:'Liberation Serif',serif" textLength="84.07" lengthAdjust="spacingAndGlyphs">Chronic GVHD</text>
<g fill="none" stroke="#000" stroke-width="1.2"><rect x="281.30" y="191.40" width="97.10" height="54.80"/><rect x="405.40" y="191.40" width="97.80" height="54.80"/><rect x="281.20" y="258.20" width="96.80" height="54.60"/><rect x="405.00" y="258.20" width="97.50" height="55.00"/><path d="M281.30 246.20h-4M281.30 237.95h-2.6M281.30 233.13h-2.6M281.30 229.70h-2.6M281.30 227.05h-2.6M281.30 224.88h-2.6M281.30 223.04h-2.6M281.30 221.46h-2.6M281.30 220.05h-2.6M281.30 210.55h-2.6M281.30 205.73h-2.6M281.30 202.30h-2.6M281.30 199.65h-2.6M281.30 197.48h-2.6M281.30 195.64h-2.6M281.30 194.06h-2.6M281.30 192.65h-2.6M281.30 191.40h-4M281.30 246.20v5M293.44 246.20v3M305.57 246.20v5M317.71 246.20v3M329.85 246.20v5M341.99 246.20v3M354.12 246.20v5M366.26 246.20v3M378.40 246.20v5M405.40 246.20h-4M405.40 237.95h-2.6M405.40 233.13h-2.6M405.40 229.70h-2.6M405.40 227.05h-2.6M405.40 224.88h-2.6M405.40 223.04h-2.6M405.40 221.46h-2.6M405.40 220.05h-2.6M405.40 210.55h-2.6M405.40 205.73h-2.6M405.40 202.30h-2.6M405.40 199.65h-2.6M405.40 197.48h-2.6M405.40 195.64h-2.6M405.40 194.06h-2.6M405.40 192.65h-2.6M405.40 191.40h-4M405.40 246.20v5M417.62 246.20v3M429.85 246.20v5M442.07 246.20v3M454.30 246.20v5M466.52 246.20v3M478.75 246.20v5M490.98 246.20v3M503.20 246.20v5M281.20 312.80h-4M281.20 304.58h-2.6M281.20 299.77h-2.6M281.20 296.36h-2.6M281.20 293.72h-2.6M281.20 291.56h-2.6M281.20 289.73h-2.6M281.20 288.15h-2.6M281.20 286.75h-2.6M281.20 277.28h-2.6M281.20 272.47h-2.6M281.20 269.06h-2.6M281.20 266.42h-2.6M281.20 264.26h-2.6M281.20 262.43h-2.6M281.20 260.85h-2.6M281.20 259.45h-2.6M281.20 258.20h-4M281.20 312.80v5M293.30 312.80v3M305.40 312.80v5M317.50 312.80v3M329.60 312.80v5M341.70 312.80v3M353.80 312.80v5M365.90 312.80v3M378.00 312.80v5M405.00 313.20h-4M405.00 304.92h-2.6M405.00 300.08h-2.6M405.00 296.64h-2.6M405.00 293.98h-2.6M405.00 291.80h-2.6M405.00 289.96h-2.6M405.00 288.37h-2.6M405.00 286.96h-2.6M405.00 277.42h-2.6M405.00 272.58h-2.6M405.00 269.14h-2.6M405.00 266.48h-2.6M405.00 264.30h-2.6M405.00 262.46h-2.6M405.00 260.87h-2.6M405.00 259.46h-2.6M405.00 258.20h-4M405.00 313.20v5M417.19 313.20v3M429.38 313.20v5M441.56 313.20v3M453.75 313.20v5M465.94 313.20v3M478.12 313.20v5M490.31 313.20v3M502.50 313.20v5"/><path d="M281.30 218.80h-4M405.40 218.80h-4M281.20 285.50h-4M405.00 285.70h-4" stroke-width="2"/><path d="M281.5 304.6L338 271.4" stroke-width="1.4"/></g>
<text x="253.34" y="195.30" font-size="12.00" style="font-family:'Liberation Serif',serif" textLength="19.87" lengthAdjust="spacingAndGlyphs">100</text>
<text x="260.70" y="223.30" font-size="12.00" style="font-family:'Liberation Serif',serif" textLength="12.47" lengthAdjust="spacingAndGlyphs">10</text>
<text x="268.40" y="249.80" font-size="12.00" style="font-family:'Liberation Serif',serif" textLength="4.54" lengthAdjust="spacingAndGlyphs">1</text>
<text x="253.00" y="262.80" font-size="12.00" style="font-family:'Liberation Serif',serif" textLength="20.52" lengthAdjust="spacingAndGlyphs">100</text>
<text x="260.45" y="290.30" font-size="12.00" style="font-family:'Liberation Serif',serif" textLength="13.04" lengthAdjust="spacingAndGlyphs">10</text>
<text x="268.50" y="316.80" font-size="12.00" style="font-family:'Liberation Serif',serif" textLength="4.54" lengthAdjust="spacingAndGlyphs">1</text>
<text x="278.31" y="329.90" font-size="12.00" style="font-family:'Liberation Serif',serif" textLength="6.49" lengthAdjust="spacingAndGlyphs">0</text>
<text x="322.91" y="329.90" font-size="12.00" style="font-family:'Liberation Serif',serif" textLength="13.40" lengthAdjust="spacingAndGlyphs">20</text>
<text x="371.24" y="329.90" font-size="12.00" style="font-family:'Liberation Serif',serif" textLength="13.48" lengthAdjust="spacingAndGlyphs">40</text>
<text x="401.38" y="329.90" font-size="12.00" style="font-family:'Liberation Serif',serif" textLength="6.84" lengthAdjust="spacingAndGlyphs">0</text>
<text x="447.49" y="329.90" font-size="12.00" style="font-family:'Liberation Serif',serif" textLength="13.83" lengthAdjust="spacingAndGlyphs">20</text>
<text x="495.14" y="329.90" font-size="12.00" style="font-family:'Liberation Serif',serif" textLength="13.48" lengthAdjust="spacingAndGlyphs">40</text>
<text transform="translate(242.70 269.50) rotate(-90)" x="-1.30" y="0" font-size="13.50" style="font-family:'Liberation Serif',serif" textLength="30.39" lengthAdjust="spacingAndGlyphs">1/DP</text>
<text transform="translate(518.80 227.00) rotate(-90)" x="-1.06" y="0" font-size="11.50" style="font-family:'Liberation Serif',serif" textLength="23.76" lengthAdjust="spacingAndGlyphs">1 wk</text>
<text transform="translate(519.00 295.20) rotate(-90)" x="-0.56" y="0" font-size="11.50" style="font-family:'Liberation Serif',serif" textLength="25.26" lengthAdjust="spacingAndGlyphs">2 wk</text>
<text x="308.75" y="353.80" font-size="13.00" style="font-family:'Liberation Serif',serif" textLength="163.11" lengthAdjust="spacingAndGlyphs">% donor cells among all TCRβ</text>
<text x="472.60" y="349.60" font-size="8.50" style="font-family:'Liberation Serif',serif" textLength="7.58" lengthAdjust="spacingAndGlyphs">hi</text>
<text x="335.80" y="269.20" font-size="11.00" style="font-family:'Liberation Serif',serif" textLength="3.39" lengthAdjust="spacingAndGlyphs">r</text>
<text x="338.99" y="264.60" font-size="6.50" style="font-family:'Liberation Serif',serif" textLength="3.49" lengthAdjust="spacingAndGlyphs">2</text>
<text x="344.86" y="269.20" font-size="11.00" style="font-family:'Liberation Serif',serif" textLength="27.60" lengthAdjust="spacingAndGlyphs">= 0.04</text>
<g><ellipse cx="294.5" cy="267.7" rx="2" ry="2.15"/><ellipse cx="309.1" cy="266.9" rx="2" ry="2.15"/><ellipse cx="318.7" cy="266.9" rx="2" ry="2.15"/><ellipse cx="298.7" cy="277.8" rx="2" ry="2.15"/><ellipse cx="302.2" cy="277.8" rx="2" ry="2.15"/><ellipse cx="304.5" cy="277.8" rx="2" ry="2.15"/><ellipse cx="305.6" cy="274.2" rx="2" ry="2.15"/><ellipse cx="317.4" cy="277.7" rx="2" ry="2.15"/><ellipse cx="312.9" cy="281.9" rx="2" ry="2.15"/><ellipse cx="327.3" cy="277.8" rx="2" ry="2.15"/><ellipse cx="335.7" cy="275.5" rx="2" ry="2.15"/><ellipse cx="306.4" cy="286.7" rx="2" ry="2.15"/><ellipse cx="304.5" cy="291.2" rx="2" ry="2.15"/><ellipse cx="300.0" cy="295.6" rx="2" ry="2.15"/><ellipse cx="290.4" cy="293.7" rx="2" ry="2.15"/><ellipse cx="289.8" cy="295.1" rx="2" ry="2.15"/><ellipse cx="288.6" cy="301.8" rx="2" ry="2.15"/><ellipse cx="299.1" cy="303.0" rx="2" ry="2.15"/><ellipse cx="301.2" cy="304.6" rx="2" ry="2.15"/><ellipse cx="303.2" cy="305.8" rx="2" ry="2.15"/><ellipse cx="295.5" cy="306.3" rx="2" ry="2.15"/><ellipse cx="292.4" cy="310.0" rx="2" ry="2.15"/><ellipse cx="331.8" cy="290.0" rx="2" ry="2.15"/><ellipse cx="368.8" cy="281.0" rx="2" ry="2.15"/><ellipse cx="284.3" cy="235.2" rx="2" ry="2.15"/><ellipse cx="285.0" cy="240.0" rx="2" ry="2.15"/><ellipse cx="284.8" cy="243.6" rx="2" ry="2.15"/><ellipse cx="287.5" cy="243.0" rx="2" ry="2.15"/><ellipse cx="289.8" cy="242.3" rx="2" ry="2.15"/><ellipse cx="286.5" cy="241.2" rx="2" ry="2.15"/><ellipse cx="408.2" cy="244.5" rx="2" ry="2.15"/><ellipse cx="407.0" cy="244.5" rx="2" ry="2.15"/><ellipse cx="407.0" cy="307.5" rx="2" ry="2.15"/><ellipse cx="407.5" cy="310.5" rx="2" ry="2.15"/><ellipse cx="406.5" cy="312.0" rx="2" ry="2.15"/></g>
</svg>
</body></html>
